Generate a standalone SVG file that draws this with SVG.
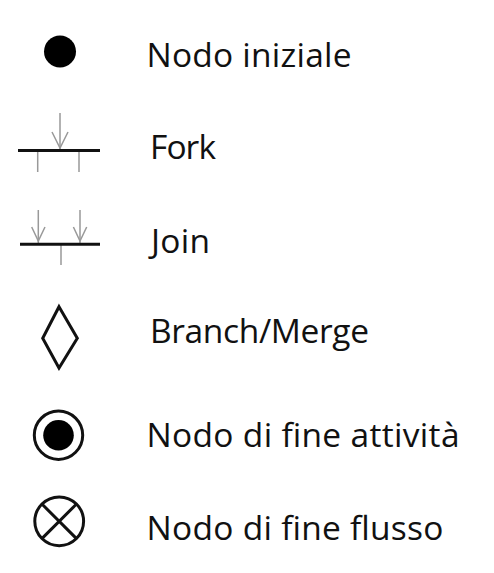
<svg xmlns="http://www.w3.org/2000/svg" width="494" height="573" viewBox="0 0 494 573">
<style>
.lbl{font-family:"Open Sans","Noto Sans","DejaVu Sans",sans-serif;font-size:33.5px;fill:#111}
.bar{stroke:#111;stroke-width:3;fill:none}
.thin{stroke:#999;stroke-width:1.5;fill:none}
.sym{stroke:#111;stroke-width:3;fill:none}
</style>
<rect width="494" height="573" fill="#fff"/>
<g id="initial">
<circle cx="60" cy="51.5" r="16" fill="#000"/>
<text class="lbl" x="146.5" y="66.5" textLength="205">Nodo iniziale</text>
</g>
<g id="fork">
<line class="thin" x1="60" y1="113" x2="60" y2="149"/>
<polyline class="thin" points="52,132 60,148 68,132"/>
<line class="thin" x1="37.7" y1="151" x2="37.7" y2="172"/>
<line class="thin" x1="79" y1="151" x2="79" y2="172"/>
<line class="bar" x1="18" y1="150.5" x2="100" y2="150.5"/>
<text class="lbl" x="150" y="159" textLength="66">Fork</text>
</g>
<g id="join">
<line class="thin" x1="38.3" y1="210" x2="38.3" y2="243"/>
<polyline class="thin" points="31.7,227 38.3,241 45,227"/>
<line class="thin" x1="80" y1="210" x2="80" y2="243"/>
<polyline class="thin" points="73.4,227 80,241 86.7,227"/>
<line class="thin" x1="61" y1="245" x2="61" y2="265"/>
<line class="bar" x1="20" y1="244.3" x2="100" y2="244.3"/>
<text class="lbl" x="151" y="253" textLength="59">Join</text>
</g>
<g id="branch">
<polygon class="sym" stroke-width="2.5" points="59,306.7 77.3,338.3 59,368 42.7,338.3"/>
<text class="lbl" x="150" y="343.3" textLength="219">Branch/Merge</text>
</g>
<g id="activity-final">
<circle class="sym" cx="58.5" cy="435.2" r="24.2"/>
<circle cx="58.5" cy="435.2" r="15.3" fill="#000"/>
<text class="lbl" x="146.5" y="446.7" textLength="313">Nodo di fine attività</text>
</g>
<g id="flow-final">
<circle class="sym" stroke-width="2.7" cx="59.2" cy="521.3" r="24.4"/>
<line class="sym" stroke-width="2.5" x1="41.9" y1="504" x2="76.5" y2="538.6"/>
<line class="sym" stroke-width="2.5" x1="76.5" y1="504" x2="41.9" y2="538.6"/>
<text class="lbl" x="146.5" y="540" textLength="297">Nodo di fine flusso</text>
</g>
<g id="connectors"></g>
</svg>
